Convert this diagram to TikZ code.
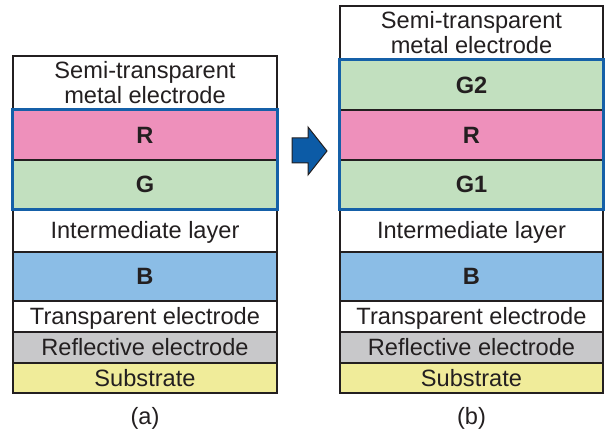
\documentclass[tikz,border=0pt]{standalone}
\usepackage{fontspec}
\setmainfont{Liberation Sans}
\definecolor{pinkR}{HTML}{EE90BB}
\definecolor{greenG}{HTML}{C2E0BF}
\definecolor{blueB}{HTML}{8BBDE6}
\definecolor{grayRefl}{HTML}{C8C8CA}
\definecolor{yellowSub}{HTML}{F0EC9A}
\definecolor{frameblue}{HTML}{1560A8}
\definecolor{linedark}{HTML}{231F20}
\definecolor{txt}{HTML}{231F20}
\definecolor{arrowfill}{HTML}{0C5BA6}
\begin{document}
\begin{tikzpicture}[x=1pt,y=-1pt,
  layer/.style={draw=linedark, line width=1.4pt, rectangle, inner sep=0pt, align=center,
    text=txt, font=\fontsize{23.6}{25}\selectfont},
  one/.style={text depth=0pt, text height=17pt},
  lw/.style={layer, minimum width=264pt},
  rw/.style={layer, minimum width=263pt},
  bold/.style={font=\fontsize{23.6}{25}\selectfont\bfseries},
  blueframe/.style={draw=frameblue, line width=3pt},
  caption/.style={text=txt, font=\fontsize{23.6}{25}\selectfont}]
\useasboundingbox (0,0) rectangle (611,435);
% left stack
\node[lw, fill=white, minimum height=54pt] (lsemi) at (145,83) {Semi-transparent\\metal electrode};
\node[lw, one, fill=pinkR, minimum height=50pt, bold] (lR) at (145,135) {R};
\node[lw, one, fill=greenG, minimum height=49pt, bold] (lG) at (145,184.5) {G};
\node[lw, one, fill=white, minimum height=43pt] (linter) at (145,230.5) {Intermediate layer};
\node[lw, one, fill=blueB, minimum height=49pt, bold] (lB) at (145,276.5) {B};
\node[lw, one, fill=white, minimum height=31pt] (ltrans) at (145,316.5) {Transparent electrode};
\node[lw, one, fill=grayRefl, minimum height=31pt] (lrefl) at (145,347.5) {Reflective electrode};
\node[lw, one, fill=yellowSub, minimum height=30pt] (lsub) at (145,378) {Substrate};
\draw[blueframe] (lR.north west) rectangle (lG.south east);
\node[caption] (capa) at (145,418) {(a)};
% right stack
\node[rw, fill=white, minimum height=54pt] (rsemi) at (471.5,33) {Semi-transparent\\metal electrode};
\node[rw, one, fill=greenG, minimum height=50pt, bold] (rG2) at (471.5,85) {G2};
\node[rw, one, fill=pinkR, minimum height=50pt, bold] (rR) at (471.5,135) {R};
\node[rw, one, fill=greenG, minimum height=49pt, bold] (rG1) at (471.5,184.5) {G1};
\node[rw, one, fill=white, minimum height=43pt] (rinter) at (471.5,230.5) {Intermediate layer};
\node[rw, one, fill=blueB, minimum height=49pt, bold] (rB) at (471.5,276.5) {B};
\node[rw, one, fill=white, minimum height=31pt] (rtrans) at (471.5,316.5) {Transparent electrode};
\node[rw, one, fill=grayRefl, minimum height=31pt] (rrefl) at (471.5,347.5) {Reflective electrode};
\node[rw, one, fill=yellowSub, minimum height=30pt] (rsub) at (471.5,378) {Substrate};
\draw[blueframe] (rG2.north west) rectangle (rG1.south east);
\node[caption] (capb) at (471.5,418) {(b)};
% arrow
\draw[fill=arrowfill, draw=linedark, line width=1pt, line join=miter]
  (292,138) -- (308,138) -- (308,127) -- (327,151) -- (308,175) -- (308,163) -- (292,163) -- cycle;
\end{tikzpicture}
\end{document}
